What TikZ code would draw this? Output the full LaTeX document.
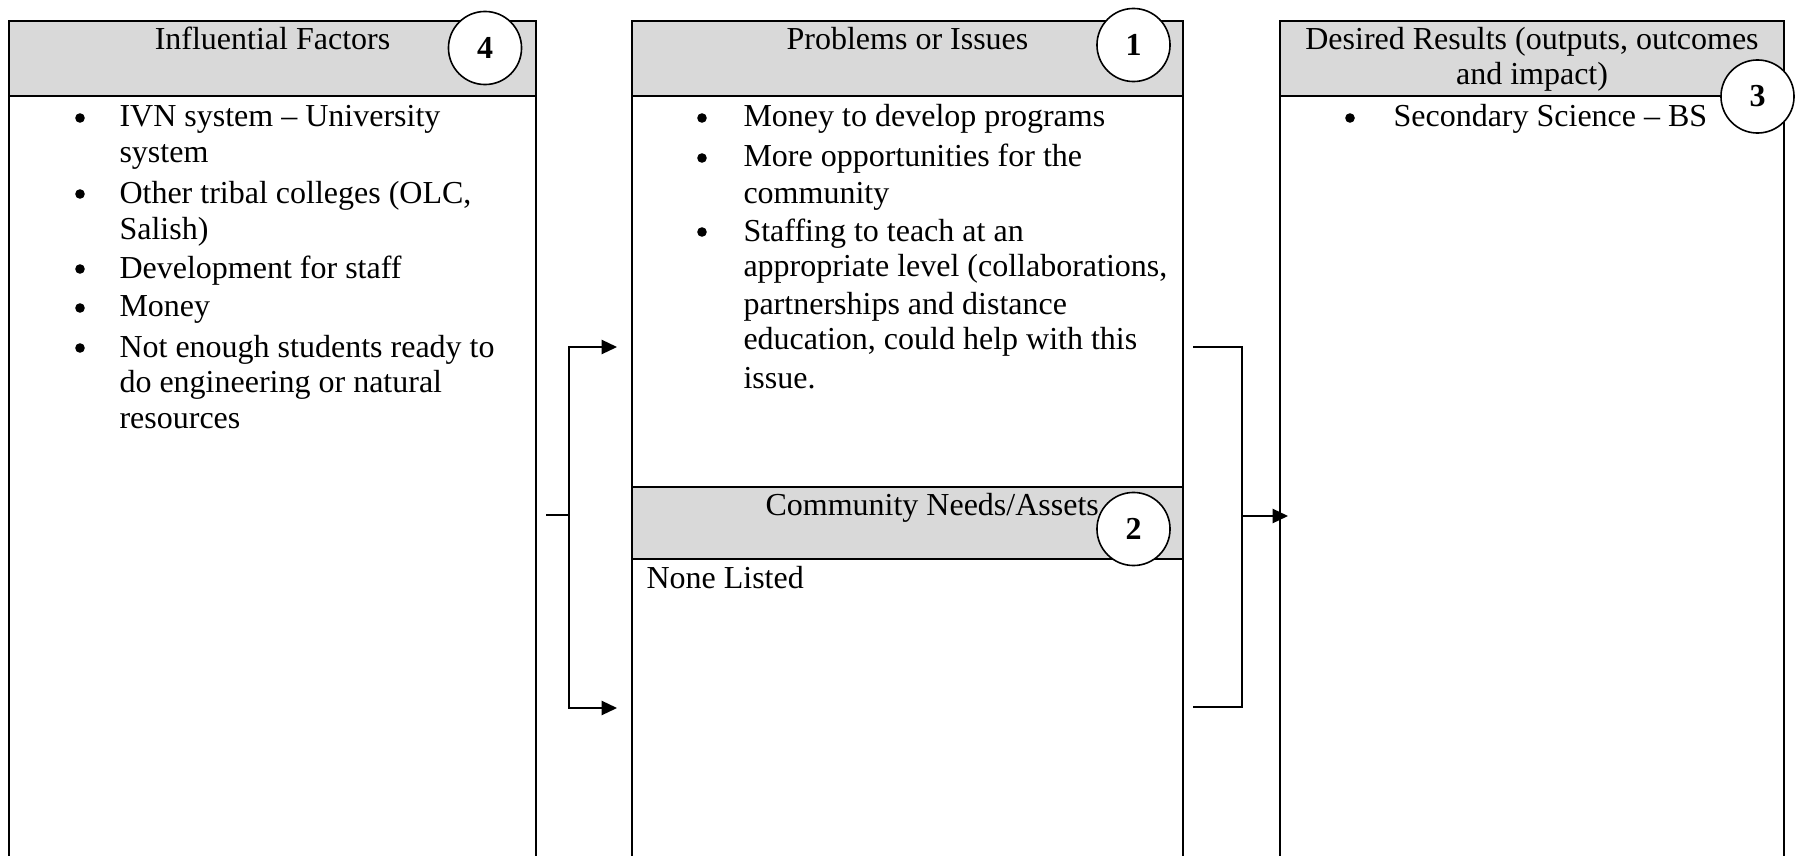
\documentclass[tikz,border=0pt]{standalone}
\usepackage{fontspec}
\setmainfont{Liberation Serif}
\usetikzlibrary{arrows.meta}
\definecolor{headgray}{HTML}{D9D9D9}

\begin{document}
\begin{tikzpicture}[x=0.375pt,y=-0.375pt,
    font=\fontsize{12}{14}\selectfont,
    >={Triangle[length=5.8pt,width=5.4pt]},
    frame/.style={line width=0.75pt},
    head/.style={fill=headgray},
    txt/.style={anchor=base west,inner sep=0pt},
    ttl/.style={anchor=base,inner sep=0pt},
    bul/.style={circle,fill,inner sep=0pt,minimum size=3.6pt},
    num/.style={circle,draw,fill=white,line width=0.6pt,minimum size=27.4pt,
                inner sep=0pt,font=\fontsize{12}{14}\selectfont\bfseries},
    link/.style={line width=0.55pt}]
    \useasboundingbox (0,0) rectangle (1797,856);
    % header bands
    \fill [head] (9,21) rectangle (536,96);
    \fill [head] (632,21) rectangle (1183,96);
    \fill [head] (632,487) rectangle (1183,559);
    \fill [head] (1280,21) rectangle (1784,96);
    % columns, open at the bottom
    \draw [frame] (9,856) -- (9,21) -- (536,21) -- (536,856);
    \draw [frame] (9,96) -- (536,96);
    \draw [frame] (632,856) -- (632,21) -- (1183,21) -- (1183,856);
    \draw [frame] (632,96) -- (1183,96);
    \draw [frame] (632,487) -- (1183,487);
    \draw [frame] (632,559) -- (1183,559);
    \draw [frame] (1280,856) -- (1280,21) -- (1784,21) -- (1784,856);
    \draw [frame] (1280,96) -- (1784,96);

    % titles
    \node [ttl] (inftitle) at (272.5,50) {Influential Factors};
    \node [ttl] (probtitle) at (907.5,50) {Problems or Issues};
    \node [txt] (commtitle) at (765,515) {Community Needs/Assets};
    \node [ttl] (restitle) at (1532,50) {Desired Results (outputs, outcomes};
    \node [ttl] (restitleb) at (1532,85) {and impact)};

    % influential factors
    \foreach \y [count=\i] in {127,203,278,317,357}
        \node [bul] (infb\i) at (80,{\y-9}) {};
    \foreach \y/\t [count=\i] in {127/{IVN system – University},163/system,
            203/{Other tribal colleges (OLC,},240/{Salish)},
            278/{Development for staff},317/Money,
            357/{Not enough students ready to},392/{do engineering or natural},
            428/resources}
        \node [txt] (inf\i) at (119,\y) {\t};

    % problems or issues
    \foreach \y [count=\i] in {127,167,241}
        \node [bul] (probb\i) at (702,{\y-9}) {};
    \foreach \y/\t [count=\i] in {127/{Money to develop programs},
            167/{More opportunities for the},203/community,
            241/{Staffing to teach at an},
            277/{appropriate level (collaborations,},
            315/{partnerships and distance},
            350/{education, could help with this},388/{issue.}}
        \node [txt] (prob\i) at (743,\y) {\t};

    \node [txt] (comm1) at (646,588) {None Listed};

    % desired results
    \node [bul] (resb1) at (1350,118) {};
    \node [txt] (res1) at (1393,127) {Secondary Science – BS};

    % numbered circles
    \node [num] (n4) at (485,48) {4};
    \node [num] (n1) at (1133.5,45) {1};
    \node [num] (n2) at (1133.5,529) {2};
    \node [num] (n3) at (1757.5,96.5) {3};

    % left bracket
    \coordinate (lstub) at (546,515);
    \coordinate (ljoin) at (569,515);
    \coordinate (ltop) at (569,347);
    \coordinate (lbot) at (569,708);
    \coordinate (ptop) at (617,347);
    \coordinate (pbot) at (617,708);
    \draw [link] (lstub) -- (ljoin);
    \draw [link,->] (ljoin) -- (ltop) -- (ptop);
    \draw [link,->] (ljoin) -- (lbot) -- (pbot);

    % right bracket
    \coordinate (rtop) at (1193,347);
    \coordinate (rtopj) at (1242,347);
    \coordinate (rbotj) at (1242,707);
    \coordinate (rbot) at (1193,707);
    \coordinate (rjoin) at (1242,516);
    \coordinate (dres) at (1288,516);
    \draw [link] (rtop) -- (rtopj) -- (rbotj) -- (rbot);
    \draw [link,->] (rjoin) -- (dres);
\end{tikzpicture}
\end{document}
